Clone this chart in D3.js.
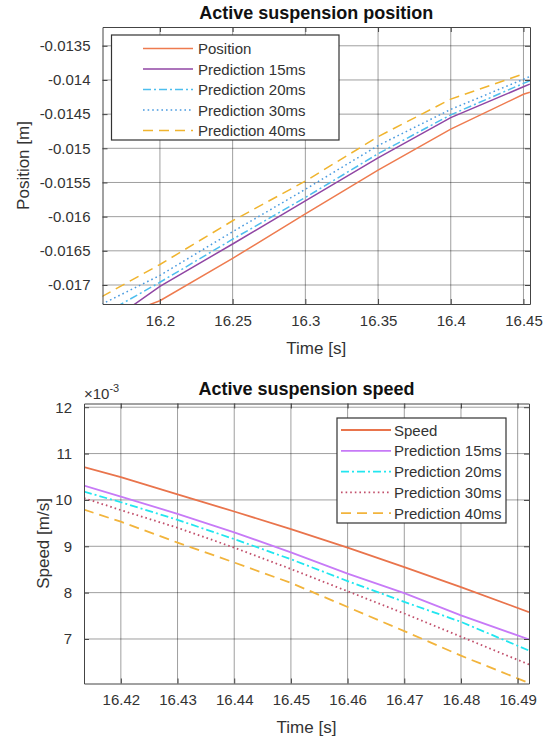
<!DOCTYPE html>
<html>
<head>
<meta charset="utf-8">
<script src="https://cdn.jsdelivr.net/npm/d3@7"></script>
<style>
  body { margin: 0; background: #fff; }
  svg { display: block; font-family: "Liberation Sans", Arial, sans-serif; }
</style>
</head>
<body>
<svg id="chart" width="552" height="743"></svg>
<script>
// ---- Top chart: position [m] ----
const posXTicks = [16.2, 16.25, 16.3, 16.35, 16.4, 16.45];
const posYTicks = [-0.017, -0.0165, -0.016, -0.0155, -0.015, -0.0145, -0.014, -0.0135];

const positionT = [16.19, 16.2, 16.25, 16.3, 16.35, 16.4, 16.45, 16.4544];
const positionV = [-0.01731, -0.01723, -0.01661, -0.01596, -0.01532, -0.01472, -0.01421, -0.01418];
const pos15T = [16.18, 16.2, 16.25, 16.3, 16.35, 16.4, 16.45, 16.4544];
const pos15V = [-0.01732, -0.01702, -0.01640, -0.01577, -0.01514, -0.01455, -0.01410, -0.01406];
const pos20T = [16.17, 16.2, 16.25, 16.3, 16.35, 16.4, 16.45, 16.4544];
const pos20V = [-0.01732, -0.01696, -0.01633, -0.01572, -0.01508, -0.01451, -0.01405, -0.01401];
const pos30T = [16.16, 16.2, 16.25, 16.3, 16.35, 16.4, 16.45, 16.4544];
const pos30V = [-0.01728, -0.01686, -0.01622, -0.01560, -0.01496, -0.01443, -0.01399, -0.01395];
const pos40T = [16.16, 16.2, 16.25, 16.3, 16.35, 16.4, 16.45, 16.451];
const pos40V = [-0.01717, -0.01670, -0.01606, -0.01548, -0.01483, -0.01428, -0.01391, -0.01389];

// ---- Bottom chart: speed [x10^-3 m/s] ----
const spdXTicks = [16.42, 16.43, 16.44, 16.45, 16.46, 16.47, 16.48, 16.49];
const spdYTicks = [7, 8, 9, 10, 11, 12];
const speedT = [16.4135, 16.42, 16.43, 16.44, 16.45, 16.46, 16.47, 16.48, 16.492];
const speedV = [10.71, 10.49, 10.12, 9.75, 9.37, 8.97, 8.55, 8.12, 7.58];
const spd15V = [10.31, 10.07, 9.70, 9.30, 8.87, 8.41, 7.99, 7.51, 6.99];
const spd20V = [10.18, 9.95, 9.57, 9.155, 8.72, 8.25, 7.80, 7.37, 6.75];
const spd30V = [10.04, 9.78, 9.40, 8.97, 8.51, 8.03, 7.55, 7.05, 6.45];
const spd40V = [9.79, 9.53, 9.08, 8.65, 8.21, 7.69, 7.17, 6.64, 6.05];

const svg = d3.select('#chart');
const zip = (ts, vs) => ts.map((t, i) => ({ t, v: vs[i] }));

function drawPanel(cfg) {
  const { x0, x1, y0, y1, xDomain, yDomain, xTicks, yTicks, xFmt, yFmt, id } = cfg;
  const x = d3.scaleLinear().domain(xDomain).range([x0, x1]);
  const y = d3.scaleLinear().domain(yDomain).range([y1, y0]);
  const g = svg.append('g');

  g.append('clipPath').attr('id', id)
    .append('rect').attr('x', x0).attr('y', y0).attr('width', x1 - x0).attr('height', y1 - y0);

  // grid
  g.append('g').selectAll('line').data(xTicks).join('line')
    .attr('x1', d => x(d)).attr('x2', d => x(d)).attr('y1', y0).attr('y2', y1)
    .attr('stroke', '#000').attr('stroke-opacity', 0.38).attr('stroke-width', 1);
  g.append('g').selectAll('line').data(yTicks).join('line')
    .attr('y1', d => y(d)).attr('y2', d => y(d)).attr('x1', x0).attr('x2', x1)
    .attr('stroke', '#000').attr('stroke-opacity', 0.38).attr('stroke-width', 1);

  // series
  const line = d3.line().x(d => x(d.t)).y(d => y(d.v));
  const lg = g.append('g').attr('clip-path', `url(#${id})`);
  cfg.series.forEach(s => {
    lg.append('path').datum(s.data).attr('d', line)
      .attr('fill', 'none').attr('stroke', s.color).attr('stroke-width', cfg.lw)
      .attr('stroke-dasharray', s.dash || null);
  });

  // axes (box with inward ticks)
  const xAx = d3.axisBottom(x).tickValues(xTicks).tickFormat(xFmt).tickSizeInner(-5).tickSizeOuter(0).tickPadding(11);
  const yAx = d3.axisLeft(y).tickValues(yTicks).tickFormat(yFmt).tickSizeInner(-5).tickSizeOuter(0).tickPadding(12);
  const xa = g.append('g').attr('transform', `translate(0,${y1})`).call(xAx);
  const ya = g.append('g').attr('transform', `translate(${x0},0)`).call(yAx);
  const xt = g.append('g').attr('transform', `translate(0,${y0})`)
    .call(d3.axisTop(x).tickValues(xTicks).tickFormat('').tickSizeInner(-5).tickSizeOuter(0));
  const yr = g.append('g').attr('transform', `translate(${x1},0)`)
    .call(d3.axisRight(y).tickValues(yTicks).tickFormat('').tickSizeInner(-5).tickSizeOuter(0));
  [xa, ya, xt, yr].forEach(a => {
    a.select('.domain').attr('stroke', '#444').attr('stroke-width', 1);
    a.selectAll('.tick line').attr('stroke', '#444');
    a.selectAll('text').attr('fill', '#333').style('font-size', '15px').style('font-family', 'inherit');
  });
  xa.selectAll('text').attr('dy', '0.71em');

  // legend
  const L = cfg.legend;
  const leg = g.append('g');
  leg.append('rect').attr('x', L.x0).attr('y', L.y0).attr('width', L.x1 - L.x0).attr('height', L.y1 - L.y0)
    .attr('fill', '#fff').attr('stroke', '#333').attr('stroke-width', 1.2);
  cfg.series.forEach((s, i) => {
    const ry = L.rowY + i * L.rowH;
    leg.append('line').attr('x1', L.lx0).attr('x2', L.lx1).attr('y1', ry).attr('y2', ry)
      .attr('stroke', s.color).attr('stroke-width', cfg.lw).attr('stroke-dasharray', s.dash || null);
    leg.append('text').attr('x', L.tx).attr('y', ry + 5.5).attr('fill', '#333')
      .style('font-size', '15px').text(s.name);
  });

  // labels
  svg.append('text').attr('x', (x0 + x1) / 2).attr('y', cfg.titleY).attr('text-anchor', 'middle')
    .style('font-size', '18px').style('font-weight', 'bold').attr('fill', '#111').text(cfg.title);
  svg.append('text').attr('x', (x0 + x1) / 2).attr('y', cfg.xLabelY).attr('text-anchor', 'middle')
    .style('font-size', '17px').attr('fill', '#333').text('Time [s]');
  svg.append('text').attr('transform', `translate(${cfg.yLabelX},${(y0 + y1) / 2}) rotate(-90)`)
    .attr('text-anchor', 'middle').style('font-size', '17px').attr('fill', '#333').text(cfg.yLabel);
  return { x, y };
}

const trimNum = d => String(+d.toFixed(4));

drawPanel({
  id: 'clipTop', x0: 102.5, x1: 530, y0: 27, y1: 304, lw: 1.5,
  xDomain: [16.1605, 16.4545], yDomain: [-0.017278, -0.013225],
  xTicks: posXTicks, yTicks: posYTicks, xFmt: trimNum, yFmt: trimNum,
  title: 'Active suspension position', titleY: 19, xLabelY: 354, yLabelX: 29, yLabel: 'Position [m]',
  legend: { x0: 111.5, x1: 339, y0: 35, y1: 140, lx0: 143, lx1: 193, tx: 198, rowY: 48.5, rowH: 20.5 },
  series: [
    { name: 'Position', data: zip(positionT, positionV), color: '#ee7b4f' },
    { name: 'Prediction 15ms', data: zip(pos15T, pos15V), color: '#9046a4' },
    { name: 'Prediction 20ms', data: zip(pos20T, pos20V), color: '#4dbeee', dash: '8,3,2,3' },
    { name: 'Prediction 30ms', data: zip(pos30T, pos30V), color: '#4a9be0', dash: '1.6,3' },
    { name: 'Prediction 40ms', data: zip(pos40T, pos40V), color: '#f0b42e', dash: '10,6' }
  ]
});

drawPanel({
  id: 'clipBot', x0: 84, x1: 529, y0: 403.5, y1: 683.5, lw: 1.8,
  xDomain: [16.4135, 16.492], yDomain: [6.04, 12.08],
  xTicks: spdXTicks, yTicks: spdYTicks, xFmt: d => String(+d.toFixed(2)), yFmt: d => String(d),
  title: 'Active suspension speed', titleY: 394.5, xLabelY: 733, yLabelX: 49, yLabel: 'Speed [m/s]',
  legend: { x0: 337, x1: 506, y0: 418, y1: 523, lx0: 341, lx1: 391, tx: 394, rowY: 430, rowH: 20.8 },
  series: [
    { name: 'Speed', data: zip(speedT, speedV), color: '#e9744c' },
    { name: 'Prediction 15ms', data: zip(speedT, spd15V), color: '#c77af7' },
    { name: 'Prediction 20ms', data: zip(speedT, spd20V), color: '#22e6f0', dash: '8,3,2,3' },
    { name: 'Prediction 30ms', data: zip(speedT, spd30V), color: '#c2506c', dash: '1.6,3' },
    { name: 'Prediction 40ms', data: zip(speedT, spd40V), color: '#f2b43c', dash: '10,6' }
  ]
});

// exponent label for the speed axis
const ex = svg.append('text').attr('x', 84).attr('y', 399).attr('fill', '#333').style('font-size', '15px');
ex.append('tspan').text('×10');
ex.append('tspan').attr('dy', -7).style('font-size', '11px').text('-3');
</script>
</body>
</html>
